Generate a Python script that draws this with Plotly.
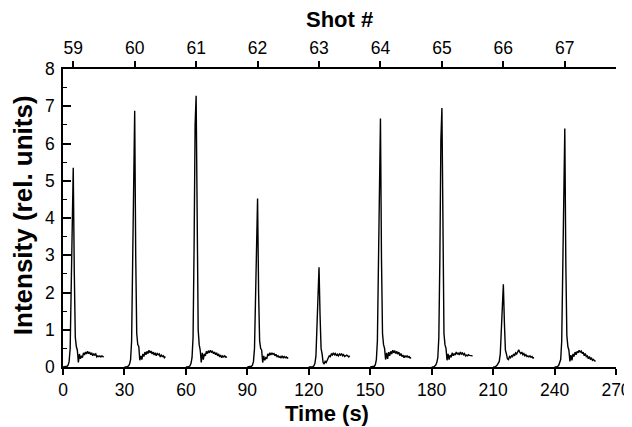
import plotly.graph_objects as go

# Shot numbers and start time (s) of each recorded segment
shots = [59, 60, 61, 62, 63, 64, 65, 66, 67]
shot_start = [0, 30, 60, 90, 120, 150, 180, 210, 240]
shot_peak_time = [5, 35, 65, 95, 125, 155, 185, 215, 245]

# Relative time grid within a segment (s)
rel_time = [0, 1, 2, 2.5, 3, 3.5, 4, 4.5, 5, 5.5, 6, 6.5, 7, 7.5, 8, 8.5, 9, 9.5, 10,
            10.5, 11, 11.5, 12, 12.5, 13, 13.5, 14, 14.5, 15, 15.5, 16, 16.5, 17, 17.5,
            18, 18.5, 19, 19.5, 20]

# Intensity (rel. units) for each shot
i59 = [0, 0, 0.02, 0.05, 0.15, 0.5, 2.2, 4.6, 5.35, 2.6, 0.8, 0.55, 0.45, 0.12, 0.35, 0.22,
       0.3, 0.25, 0.38, 0.32, 0.4, 0.35, 0.42, 0.36, 0.4, 0.33, 0.38, 0.3, 0.36, 0.32, 0.35,
       0.27, 0.3, 0.28, 0.3, 0.27, 0.3, 0.28, 0.27]
i60 = [0, 0, 0.03, 0.08, 0.2, 0.7, 2.8, 6.0, 6.88, 3.0, 0.9, 0.6, 0.55, 0.18, 0.3, 0.2,
       0.35, 0.28, 0.4, 0.33, 0.42, 0.36, 0.45, 0.38, 0.43, 0.35, 0.4, 0.32, 0.38, 0.3, 0.36,
       0.33, 0.35, 0.27, 0.32, 0.28, 0.3, 0.25, 0.28]
i61 = [0, 0, 0.03, 0.1, 0.25, 0.8, 3.2, 6.5, 7.28, 3.2, 1.0, 0.6, 0.45, 0.12, 0.38, 0.2,
       0.35, 0.3, 0.42, 0.36, 0.44, 0.38, 0.45, 0.4, 0.42, 0.36, 0.4, 0.33, 0.38, 0.3, 0.35,
       0.27, 0.32, 0.25, 0.3, 0.27, 0.3, 0.26, 0.28]
i62 = [0, 0, 0.02, 0.05, 0.15, 0.5, 1.8, 3.9, 4.52, 2.0, 0.7, 0.5, 0.45, 0.12, 0.3, 0.18,
       0.25, 0.22, 0.35, 0.3, 0.38, 0.32, 0.38, 0.34, 0.36, 0.3, 0.34, 0.28, 0.3, 0.26, 0.28,
       0.24, 0.3, 0.25, 0.28, 0.25, 0.27, 0.24, 0.25]
i63 = [0, 0, 0.01, 0.03, 0.1, 0.3, 1.0, 2.2, 2.68, 1.4, 0.5, 0.35, 0.12, 0.08, 0.15, 0.12,
       0.2, 0.22, 0.3, 0.28, 0.35, 0.32, 0.38, 0.33, 0.36, 0.3, 0.34, 0.3, 0.35, 0.32, 0.36,
       0.3, 0.33, 0.28, 0.3, 0.32, 0.3, 0.27, 0.3]
i64 = [0, 0, 0.02, 0.06, 0.2, 0.7, 2.7, 5.8, 6.67, 2.9, 0.9, 0.6, 0.5, 0.2, 0.38, 0.22,
       0.4, 0.3, 0.42, 0.35, 0.45, 0.38, 0.44, 0.36, 0.42, 0.34, 0.4, 0.3, 0.36, 0.28, 0.32,
       0.25, 0.3, 0.27, 0.3, 0.26, 0.28, 0.24, 0.25]
i65 = [0, 0, 0.05, 0.12, 0.25, 0.8, 2.9, 6.1, 6.95, 3.0, 0.9, 0.6, 0.5, 0.18, 0.35, 0.2,
       0.32, 0.26, 0.38, 0.3, 0.36, 0.32, 0.4, 0.34, 0.38, 0.32, 0.4, 0.35, 0.38, 0.33, 0.36,
       0.3, 0.32, 0.3, 0.33, 0.31, 0.3, 0.3, 0.3]
i66 = [0, 0, 0.05, 0.1, 0.15, 0.35, 0.9, 1.8, 2.22, 1.2, 0.45, 0.35, 0.22, 0.2, 0.28, 0.25,
       0.3, 0.28, 0.35, 0.3, 0.38, 0.35, 0.42, 0.46, 0.4, 0.36, 0.4, 0.33, 0.36, 0.3, 0.33,
       0.28, 0.3, 0.27, 0.3, 0.26, 0.28, 0.24, 0.25]
i67 = [0, 0, 0.04, 0.1, 0.2, 0.7, 2.6, 5.6, 6.4, 2.8, 0.85, 0.55, 0.45, 0.15, 0.32, 0.18,
       0.35, 0.28, 0.4, 0.33, 0.42, 0.38, 0.45, 0.4, 0.43, 0.36, 0.4, 0.3, 0.36, 0.28, 0.3,
       0.22, 0.28, 0.2, 0.25, 0.18, 0.2, 0.17, 0.15]

intensities = [i59, i60, i61, i62, i63, i64, i65, i66, i67]

x_ticks = [0, 30, 60, 90, 120, 150, 180, 210, 240, 270]
y_ticks = [0, 1, 2, 3, 4, 5, 6, 7, 8]

fig = go.Figure()
for start, vals in zip(shot_start, intensities):
    fig.add_trace(go.Scatter(
        x=[start + r for r in rel_time], y=vals, mode="lines",
        line=dict(color="black", width=1.4), showlegend=False, hoverinfo="skip"))

# invisible trace to anchor the top (shot number) axis
fig.add_trace(go.Scatter(x=shot_peak_time, y=[0] * len(shots), xaxis="x2",
                         mode="markers", marker=dict(opacity=0), showlegend=False,
                         hoverinfo="skip"))

font_family = "Liberation Sans, Arial, sans-serif"
tick_size = 17.5
# the page body adds an 8px offset, so the figure is 8px smaller than the window
fig.update_layout(
    width=624, height=419,
    margin=dict(l=55, r=16, t=61, b=60, autoexpand=False),
    paper_bgcolor="white", plot_bgcolor="white",
    font=dict(family=font_family, size=tick_size, color="black"),
    xaxis=dict(
        range=[0, 270], tickvals=x_ticks, ticks="outside", ticklen=6, tickwidth=1.5,
        tickcolor="black", showline=True, linecolor="black", linewidth=1.5,
        showgrid=False, zeroline=False, tickfont=dict(size=tick_size), automargin=False,
    ),
    xaxis2=dict(
        range=[0, 270], overlaying="x", side="top", anchor="y",
        tickvals=shot_peak_time, ticktext=[str(s) for s in shots],
        ticks="outside", ticklen=6, tickwidth=1.5, tickcolor="black",
        showline=True, linecolor="black", linewidth=1.5, showgrid=False,
        zeroline=False, tickfont=dict(size=tick_size), automargin=False,
    ),
    yaxis=dict(
        range=[0, 8], tickvals=y_ticks, ticks="inside", ticklen=8, tickwidth=1.5,
        tickcolor="black", showline=True, linecolor="black", linewidth=1.5,
        showgrid=False, zeroline=False, tickfont=dict(size=tick_size), automargin=False,
        ticklabelstandoff=3,
        minor=dict(dtick=0.5, ticks="inside", ticklen=4, tickwidth=1.2, tickcolor="black"),
    ),
    annotations=[
        dict(text="<b>Shot #</b>", xref="paper", yref="paper", x=0.5, y=1.165,
             xanchor="center", yanchor="middle", showarrow=False,
             font=dict(size=22, family=font_family)),
        dict(text="<b>Time (s)</b>", xref="paper", yref="paper", x=0.477, y=-0.155,
             xanchor="center", yanchor="middle", showarrow=False,
             font=dict(size=22, family=font_family)),
        dict(text="<b>Intensity (rel. units)</b>", xref="paper", yref="paper",
             x=-0.072, y=0.51, xanchor="center", yanchor="middle", textangle=-90,
             showarrow=False, font=dict(size=26, family=font_family)),
    ],
)

fig.write_html("out.html")
